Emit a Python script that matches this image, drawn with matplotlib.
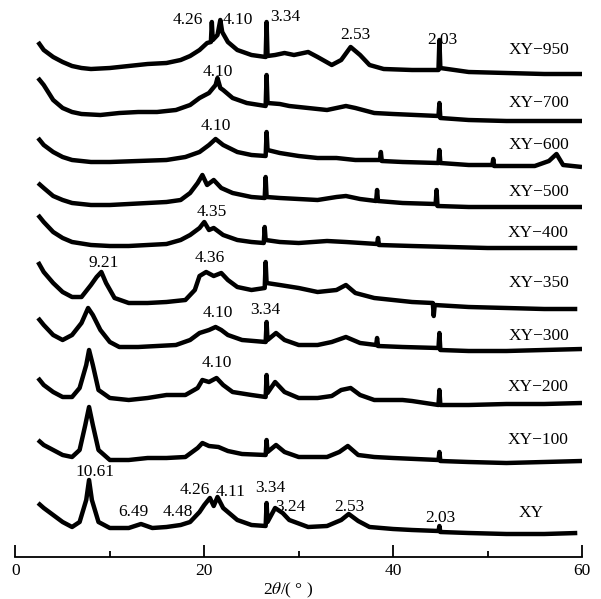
import matplotlib
matplotlib.use("Agg")
from matplotlib import pyplot as plt

plt.rcParams['font.family'] = ['Liberation Serif', 'DejaVu Serif']
plt.rcParams['mathtext.fontset'] = 'stix'

# 2theta / intensity pairs for each sample (intensity above its own baseline)
tt_950 = [2.4, 3, 4, 5, 6, 7, 8, 10, 12, 14, 16, 17.5, 18.5, 19.5, 20.3, 20.7, 20.8, 20.9, 21.4, 21.7, 21.9,
          22.5, 23.5, 25, 26.5, 26.6, 26.7, 27.5, 28.5, 29.5, 31, 32, 33.5, 34.5, 35.5, 36.5, 37.5, 39, 42,
          44.8, 44.9, 45.0, 48, 52, 56, 60]
i_950 = [33, 25, 18, 13, 9, 7, 6, 7, 9, 11, 12, 15, 19, 25, 32, 33, 53, 35, 40, 55, 43,
         33, 25, 20, 18, 53, 19, 20, 22, 20, 23, 18, 10, 15, 28, 20, 10, 6, 5,
         5, 35, 7, 3, 2, 1, 1]

tt_700 = [2.4, 3, 4, 5, 6, 7, 9, 11, 13, 15, 17, 18.5, 19.5, 20.5, 21.2, 21.4, 21.7, 22, 23, 24.5,
          26.5, 26.6, 26.7, 28, 29, 31, 33, 35, 36, 38, 40, 44.8, 44.9, 45.0, 48, 52, 56, 60]
i_700 = [44, 37, 22, 14, 10, 8, 7, 9, 10, 10, 12, 17, 24, 29, 37, 44, 34, 32, 24, 19,
         16, 47, 19, 18, 16, 14, 12, 16, 14, 9, 8, 6, 19, 4, 2, 1, 1, 1]

tt_600 = [2.4, 3, 4, 5, 6, 8, 10, 13, 16, 18, 19.5, 20.5, 21.2, 22, 23.5, 25, 26.5, 26.6, 26.7, 28,
          30, 32, 34, 36, 38.6, 38.7, 38.8, 41, 44.8, 44.9, 45.0, 48, 50.5, 50.6, 50.7, 52.5, 55,
          56.5, 57.3, 58, 60]
i_600 = [29, 22, 15, 10, 7, 5, 5, 6, 7, 10, 15, 22, 28, 22, 15, 12, 11, 35, 17, 14,
         11, 9, 9, 7, 7, 15, 6, 5, 4, 17, 4, 2, 2, 8, 1, 1, 1,
         6, 13, 2, 0]

tt_500 = [2.4, 3, 4, 5, 6, 8, 10, 12, 14, 16, 17.5, 18.5, 19.3, 19.8, 20.3, 21.0, 21.8, 23, 25, 26.4,
          26.5, 26.6, 28, 30, 32, 34, 35, 36.5, 38.2, 38.3, 38.4, 41, 44.5, 44.6, 44.7, 48, 52, 56, 60]
i_500 = [24, 19, 11, 7, 4, 2, 2, 3, 4, 5, 7, 14, 24, 32, 22, 27, 19, 14, 10, 9,
         30, 10, 9, 8, 7, 10, 11, 8, 6, 17, 6, 4, 3, 17, 1, 0, 0, 0, 0]

tt_400 = [2.4, 3, 4, 5, 6, 8, 10, 12, 14, 16, 17.5, 18.5, 19.5, 20.0, 20.5, 21.0, 22, 23.5, 25, 26.3,
          26.4, 26.5, 28, 30, 33, 35, 38.3, 38.4, 38.5, 42, 46, 50, 55, 59.5]
i_400 = [33, 26, 16, 10, 6, 3, 2, 2, 3, 4, 8, 13, 20, 26, 18, 20, 13, 8, 6, 5,
         21, 8, 6, 5, 7, 6, 4, 10, 3, 2, 1, 0, 0, 0]

tt_350 = [2.4, 3, 4, 5, 6, 7, 8, 8.6, 9.1, 9.6, 10.5, 12, 14, 16, 18, 19.0, 19.5, 20.2, 21, 21.8,
          22.5, 23.5, 25, 26.4, 26.5, 26.6, 28, 30, 32, 34, 35, 36, 38, 40, 42, 44.2, 44.3, 44.4,
          48, 52, 56, 59.5]
i_350 = [46, 36, 25, 16, 11, 11, 23, 31, 36, 25, 10, 5, 5, 6, 8, 18, 32, 36, 32, 35,
         28, 21, 18, 20, 46, 25, 23, 20, 16, 18, 23, 15, 10, 8, 6, 5, -8, 3,
         1, 0, -1, -1]

tt_300 = [2.4, 3, 4, 5, 6, 7, 7.7, 8.2, 9, 10, 11, 13, 15, 17, 18.5, 19.5, 20.5, 21.2, 21.8, 22.5,
          24, 26.5, 26.6, 26.7, 27.6, 28.5, 30, 32, 33.5, 35, 36.5, 38.2, 38.3, 38.4, 41, 44.8,
          44.9, 45.0, 48, 52, 56, 60]
i_300 = [33, 26, 16, 11, 16, 28, 43, 36, 21, 9, 4, 4, 5, 6, 11, 18, 21, 24, 21, 16,
         11, 9, 29, 11, 18, 11, 6, 6, 9, 14, 8, 6, 13, 5, 4, 3,
         18, 1, 0, 0, 1, 2]

tt_200 = [2.4, 3, 4, 5, 6, 6.8, 7.5, 7.8, 8.2, 8.8, 10, 12, 14, 16, 18, 19.3, 19.8, 20.5, 21.3, 22,
          23, 25, 26.5, 26.6, 26.7, 27.5, 28.5, 30, 32, 33.5, 34.5, 35.5, 36.5, 38, 41, 42, 44.8,
          44.9, 45.0, 48, 52, 56, 60]
i_200 = [26, 19, 12, 7, 7, 16, 39, 54, 39, 14, 6, 4, 6, 9, 9, 16, 24, 22, 26, 19,
         12, 9, 7, 29, 11, 22, 12, 6, 6, 8, 14, 16, 9, 4, 4, 3, -1,
         14, -1, -1, 0, 0, 1]

tt_100 = [2.4, 3, 4, 5, 6, 6.8, 7.4, 7.8, 8.2, 8.8, 10, 12, 14, 16, 18, 19.3, 19.8, 20.5, 21.5, 22.5,
          24, 26.5, 26.6, 26.7, 27.6, 28.5, 30, 33, 34.3, 35.2, 36.3, 38, 40, 44.8, 44.9, 45.0,
          48, 52, 56, 60]
i_100 = [22, 17, 12, 7, 5, 12, 37, 55, 37, 12, 2, 2, 4, 4, 5, 14, 19, 16, 15, 11,
         8, 7, 22, 10, 17, 10, 5, 5, 10, 16, 7, 5, 4, 2, 10, 1,
         0, -1, 0, 1]

tt_xy = [2.4, 3, 4, 5, 6, 6.8, 7.5, 7.8, 8.1, 8.8, 10, 12, 13.3, 14.5, 16, 17.5, 18.5, 19.5, 20.0, 20.6,
         21.0, 21.4, 22, 23.5, 25, 26.5, 26.6, 26.7, 27.5, 28.3, 29, 31, 33, 34.5, 35.3, 36.3, 37.5,
         40, 42, 44.8, 44.9, 45.0, 48, 52, 56, 59.5]
i_xy = [31, 26, 19, 12, 7, 12, 34, 54, 34, 12, 6, 6, 10, 6, 7, 9, 12, 22, 29, 36,
        28, 37, 26, 14, 9, 8, 31, 12, 26, 21, 14, 7, 8, 14, 20, 13, 7,
        5, 4, 3, 8, 2, 1, 0, 0, 1]

names = ["XY\u2212950", "XY\u2212700", "XY\u2212600", "XY\u2212500", "XY\u2212400",
         "XY\u2212350", "XY\u2212300", "XY\u2212200", "XY\u2212100", "XY"]
series = [(tt_950, i_950), (tt_700, i_700), (tt_600, i_600), (tt_500, i_500), (tt_400, i_400),
          (tt_350, i_350), (tt_300, i_300), (tt_200, i_200), (tt_100, i_100), (tt_xy, i_xy)]

# vertical stacking of the patterns
offsets = [482, 435, 390, 350, 309, 249, 206, 153, 95, 23]
name_pos = [(55.4, 507), (55.4, 454), (55.4, 412), (55.4, 365), (55.4, 324),
            (55.4, 274), (55.4, 221), (55.4, 170), (55.4, 117), (54.6, 44)]

# d-spacing labels above the peaks
peak_labels = [
    ("4.26", 18.3, 537), ("4.10", 23.6, 537), ("3.34", 28.6, 540), ("2.53", 36.0, 522), ("2.03", 45.2, 517),
    ("4.10", 21.4, 485),
    ("4.10", 21.2, 431),
    ("4.35", 20.8, 345),
    ("9.21", 9.3, 294), ("4.36", 20.6, 299),
    ("4.10", 21.4, 244), ("3.34", 26.5, 247),
    ("4.10", 21.3, 194),
    ("10.61", 8.4, 85), ("6.49", 12.5, 45), ("4.48", 17.2, 45), ("4.26", 19.0, 67), ("4.11", 22.8, 65),
    ("3.34", 27.0, 69), ("3.24", 29.1, 50), ("2.53", 35.4, 50), ("2.03", 45.0, 39),
]

fig = plt.figure(figsize=(6.01, 5.99), dpi=100)
ax = fig.add_axes([15.4 / 601, 42 / 599, 566.6 / 601, 557 / 599])

for (tt, inten), off in zip(series, offsets):
    ax.plot(tt, [v + off for v in inten], color='black', lw=3.2, solid_joinstyle='round',
            solid_capstyle='butt')

for name, (x, y) in zip(names, name_pos):
    ax.text(x, y, name, fontsize=12.5, ha='center', va='center')

for txt, x, y in peak_labels:
    ax.text(x, y, txt, fontsize=12.5, ha='center', va='center')

ax.set_xlim(0, 60)
ax.set_ylim(0, 557)
for s in ['top', 'left', 'right']:
    ax.spines[s].set_visible(False)
ax.spines['bottom'].set_linewidth(1.3)
ax.set_yticks([])
ax.set_xticks([0, 20, 40, 60])
ax.set_xticks([10, 30, 50], minor=True)
ax.tick_params(axis='x', which='major', direction='in', length=8.5, width=1.3, labelsize=12.5, pad=4)
ax.tick_params(axis='x', which='minor', direction='in', length=4.5, width=1.3)

fig.text(288 / 601, 1 - 590 / 599, "2$\\it{\\theta}$/( \u00b0 )", fontsize=12.5, ha='center', va='center')

fig.savefig("out.png", dpi=100)
